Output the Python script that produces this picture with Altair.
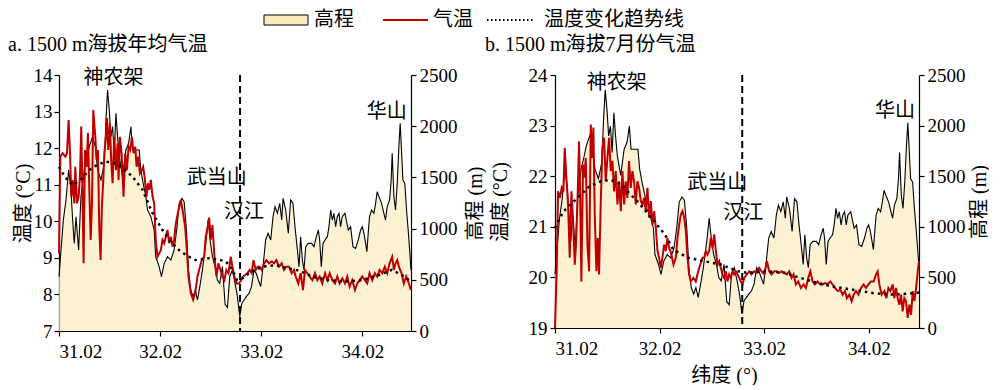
import altair as alt
import pandas as pd

FONT = "Liberation Serif, Noto Sans CJK SC"
BEIGE = "#FCEBC1"
RED = "#C00000"

X_TICKS = [31.02, 32.02, 33.02, 34.02]
X_DOMAIN = [31.02, 34.50]
DASH_LAT = 32.81
ELEV_TICKS = [0, 500, 1000, 1500, 2000, 2500]

# elevation profile (lat, m) - same transect in both panels
ELEVATION = [
    (31.020, 530), (31.040, 791), (31.063, 1084), (31.089, 1279), (31.115, 1572), (31.138, 1377),
    (31.155, 1084), (31.171, 856), (31.188, 1116), (31.214, 791), (31.237, 1312), (31.270, 1572),
    (31.293, 1670), (31.319, 1800), (31.352, 1898), (31.379, 1800), (31.402, 1572), (31.435, 1475),
    (31.468, 1637), (31.484, 2060), (31.500, 2353), (31.517, 2158), (31.533, 1898), (31.550, 1995),
    (31.566, 1735), (31.583, 2126), (31.599, 1898), (31.616, 1702), (31.648, 1507), (31.681, 1767),
    (31.708, 1833), (31.731, 1995), (31.747, 1767), (31.780, 1767), (31.813, 1767), (31.829, 1572),
    (31.852, 1442), (31.879, 1312), (31.895, 1182), (31.928, 1116), (31.961, 986), (31.976, 726),
    (32.010, 628), (32.033, 530), (32.060, 661), (32.093, 726), (32.126, 693), (32.158, 791),
    (32.185, 1000), (32.208, 1247), (32.234, 1295), (32.257, 1263), (32.280, 986), (32.300, 596),
    (32.323, 400), (32.346, 335), (32.367, 400), (32.389, 303), (32.412, 433), (32.438, 596),
    (32.471, 856), (32.494, 1084), (32.514, 889), (32.537, 726), (32.563, 628), (32.586, 498),
    (32.609, 465), (32.636, 628), (32.662, 260), (32.685, 230), (32.708, 530), (32.734, 596),
    (32.761, 465), (32.784, 335), (32.807, 140), (32.827, 270), (32.850, 303), (32.872, 335),
    (32.899, 368), (32.923, 433), (32.948, 596), (32.970, 563), (32.991, 498), (33.014, 433),
    (33.037, 628), (33.063, 889), (33.087, 954), (33.113, 889), (33.136, 1116), (33.156, 1214),
    (33.179, 1149), (33.202, 1247), (33.222, 1084), (33.235, 1295), (33.261, 1182), (33.287, 954),
    (33.310, 1279), (33.333, 1247), (33.353, 1019), (33.376, 800), (33.393, 628), (33.409, 921),
    (33.426, 693), (33.442, 596), (33.459, 824), (33.485, 856), (33.518, 856), (33.541, 824),
    (33.564, 921), (33.584, 986), (33.597, 889), (33.613, 628), (33.630, 856), (33.650, 889),
    (33.673, 921), (33.689, 1019), (33.706, 1182), (33.722, 1084), (33.738, 1149), (33.755, 1019),
    (33.771, 1116), (33.788, 1149), (33.804, 1019), (33.820, 1116), (33.847, 1149), (33.860, 1084),
    (33.880, 986), (33.903, 1019), (33.926, 824), (33.952, 807), (33.979, 889), (34.002, 986),
    (34.018, 1019), (34.035, 954), (34.051, 856), (34.064, 775), (34.077, 954), (34.090, 1116),
    (34.110, 1182), (34.133, 1149), (34.150, 1247), (34.166, 1361), (34.183, 1312), (34.209, 1247),
    (34.232, 1149), (34.248, 1084), (34.265, 1214), (34.288, 1279), (34.304, 1474), (34.314, 1735),
    (34.331, 1312), (34.347, 1182), (34.364, 1442), (34.380, 1800), (34.393, 2028), (34.406, 1767),
    (34.420, 1474), (34.439, 1442), (34.456, 1182), (34.472, 986), (34.489, 758), (34.500, 596),
]

# panel a: annual mean temperature (lat, degC)
TEMP_A = [
    (31.020, 9.12), (31.033, 11.77), (31.056, 11.86), (31.083, 11.77), (31.099, 11.86), (31.115, 12.77),
    (31.129, 11.86), (31.142, 10.67), (31.155, 11.13), (31.171, 10.49), (31.181, 11.49), (31.198, 10.49),
    (31.214, 10.67), (31.227, 11.22), (31.240, 12.59), (31.254, 10.49), (31.263, 8.85), (31.277, 11.95),
    (31.293, 11.49), (31.306, 12.41), (31.319, 10.95), (31.333, 9.49), (31.346, 10.49), (31.359, 13.04),
    (31.379, 12.31), (31.392, 11.68), (31.405, 11.95), (31.418, 9.85), (31.431, 8.94), (31.444, 10.40),
    (31.458, 11.13), (31.468, 11.86), (31.484, 12.31), (31.494, 12.82), (31.507, 11.95), (31.523, 12.68),
    (31.537, 11.59), (31.550, 11.04), (31.566, 12.31), (31.583, 11.40), (31.599, 12.13), (31.609, 11.13),
    (31.622, 12.31), (31.639, 11.86), (31.658, 10.67), (31.675, 11.86), (31.691, 11.40), (31.708, 12.04),
    (31.724, 11.95), (31.741, 12.31), (31.757, 11.86), (31.774, 12.04), (31.787, 11.49), (31.803, 11.77),
    (31.820, 11.31), (31.839, 11.40), (31.852, 11.49), (31.866, 11.22), (31.885, 10.67), (31.899, 11.04),
    (31.912, 10.86), (31.928, 11.13), (31.945, 10.67), (31.961, 10.49), (31.976, 9.49), (31.994, 9.03),
    (32.010, 9.12), (32.027, 9.21), (32.043, 9.49), (32.060, 9.40), (32.076, 9.58), (32.093, 9.76),
    (32.109, 9.40), (32.126, 9.58), (32.142, 9.31), (32.158, 9.49), (32.175, 9.94), (32.201, 10.31),
    (32.224, 10.58), (32.247, 10.22), (32.267, 9.85), (32.284, 9.21), (32.300, 8.49), (32.323, 8.03),
    (32.346, 7.85), (32.366, 8.03), (32.389, 8.49), (32.405, 8.67), (32.432, 8.94), (32.455, 9.03),
    (32.471, 9.58), (32.491, 9.85), (32.504, 10.10), (32.521, 9.50), (32.537, 9.90), (32.557, 9.03),
    (32.576, 8.49), (32.596, 8.85), (32.616, 8.67), (32.636, 8.49), (32.655, 8.39), (32.675, 8.67),
    (32.695, 8.58), (32.718, 9.03), (32.734, 8.76), (32.754, 8.49), (32.774, 8.30), (32.800, 8.30),
    (32.820, 8.39), (32.840, 8.49), (32.859, 8.53), (32.882, 8.58), (32.905, 8.67), (32.925, 8.58),
    (32.942, 8.94), (32.965, 8.67), (32.984, 8.76), (33.004, 8.76), (33.024, 8.67), (33.047, 8.85),
    (33.070, 8.94), (33.096, 8.85), (33.123, 8.90), (33.146, 8.85), (33.169, 8.94), (33.195, 8.76),
    (33.221, 8.85), (33.244, 8.67), (33.267, 8.76), (33.294, 8.76), (33.320, 8.58), (33.343, 8.67),
    (33.360, 8.49), (33.386, 8.30), (33.409, 8.58), (33.432, 8.12), (33.452, 8.67), (33.475, 8.58),
    (33.498, 8.49), (33.525, 8.39), (33.551, 8.58), (33.574, 8.39), (33.597, 8.49), (33.623, 8.30),
    (33.650, 8.58), (33.673, 8.39), (33.696, 8.58), (33.722, 8.39), (33.748, 8.30), (33.771, 8.49),
    (33.794, 8.30), (33.821, 8.44), (33.847, 8.30), (33.870, 8.49), (33.893, 8.21), (33.919, 8.39),
    (33.946, 8.12), (33.969, 8.30), (33.992, 8.39), (34.018, 8.49), (34.044, 8.39), (34.067, 8.30),
    (34.090, 8.58), (34.117, 8.39), (34.143, 8.58), (34.166, 8.49), (34.189, 8.67), (34.216, 8.58),
    (34.242, 8.76), (34.265, 8.58), (34.288, 8.85), (34.314, 9.03), (34.331, 8.67), (34.347, 8.85),
    (34.364, 8.94), (34.380, 8.76), (34.406, 8.58), (34.429, 8.30), (34.452, 8.49), (34.479, 8.30),
    (34.499, 8.12),
]

TREND_A = [
    (31.020, 11.49), (31.080, 11.20), (31.155, 10.99), (31.240, 11.15), (31.320, 11.40), (31.400, 11.55),
    (31.484, 11.63), (31.560, 11.60), (31.630, 11.49), (31.747, 11.22), (31.846, 10.86), (31.945, 10.22),
    (32.043, 9.76), (32.120, 9.45), (32.208, 9.21), (32.290, 9.05), (32.370, 8.94), (32.500, 8.99),
    (32.600, 8.95), (32.670, 8.90), (32.730, 8.70), (32.780, 8.39), (32.840, 8.45), (32.900, 8.58),
    (33.030, 8.76), (33.160, 8.80), (33.290, 8.71), (33.400, 8.65), (33.520, 8.49), (33.690, 8.39),
    (33.850, 8.35), (34.020, 8.39), (34.180, 8.53), (34.310, 8.67), (34.410, 8.53), (34.500, 8.35),
]

# panel b: July temperature (lat, degC)
TEMP_B = [
    (31.020, 19.00), (31.036, 20.12), (31.049, 21.70), (31.068, 21.57), (31.084, 21.77), (31.100, 21.70),
    (31.113, 22.56), (31.129, 21.97), (31.145, 21.44), (31.161, 20.39), (31.177, 21.70), (31.193, 21.11),
    (31.209, 20.25), (31.221, 20.65), (31.234, 21.44), (31.250, 22.69), (31.260, 21.70), (31.272, 19.92),
    (31.288, 22.23), (31.301, 21.97), (31.314, 22.36), (31.330, 20.65), (31.346, 20.12), (31.362, 23.02),
    (31.374, 22.36), (31.387, 22.96), (31.400, 21.24), (31.416, 20.12), (31.429, 20.78), (31.441, 20.06),
    (31.457, 21.44), (31.473, 22.56), (31.489, 22.76), (31.505, 21.90), (31.521, 22.36), (31.537, 22.76),
    (31.553, 22.10), (31.569, 22.30), (31.585, 21.70), (31.601, 22.10), (31.617, 21.44), (31.633, 21.90),
    (31.649, 21.31), (31.665, 22.10), (31.681, 21.44), (31.696, 21.90), (31.712, 21.57), (31.728, 22.30),
    (31.744, 21.77), (31.760, 22.10), (31.776, 21.90), (31.792, 21.44), (31.808, 21.90), (31.824, 21.77),
    (31.840, 21.51), (31.856, 21.44), (31.872, 21.57), (31.888, 21.31), (31.904, 21.77), (31.920, 21.18),
    (31.936, 21.51), (31.952, 21.04), (31.968, 21.31), (31.984, 20.98), (32.000, 20.52), (32.015, 20.39),
    (32.031, 20.19), (32.047, 20.39), (32.063, 20.65), (32.079, 20.52), (32.095, 20.78), (32.111, 20.58),
    (32.127, 20.50), (32.153, 20.25), (32.175, 20.39), (32.191, 20.78), (32.207, 21.04), (32.223, 21.24),
    (32.239, 21.31), (32.255, 21.18), (32.271, 20.91), (32.287, 20.39), (32.302, 20.06), (32.318, 19.92),
    (32.344, 19.99), (32.366, 19.92), (32.389, 20.12), (32.408, 20.25), (32.430, 20.39), (32.446, 20.39),
    (32.462, 20.52), (32.478, 20.45), (32.494, 20.52), (32.510, 20.78), (32.526, 20.58), (32.542, 20.85),
    (32.558, 20.52), (32.574, 20.25), (32.590, 20.32), (32.605, 20.19), (32.621, 20.06), (32.637, 19.99),
    (32.653, 20.12), (32.669, 19.92), (32.685, 20.06), (32.701, 19.99), (32.717, 20.12), (32.733, 20.06),
    (32.749, 20.12), (32.765, 20.06), (32.781, 19.99), (32.797, 19.92), (32.813, 19.86), (32.829, 19.99),
    (32.854, 20.06), (32.877, 20.12), (32.899, 20.06), (32.924, 20.12), (32.950, 20.09), (32.972, 20.19),
    (32.995, 20.12), (33.020, 20.06), (33.046, 20.32), (33.068, 20.12), (33.090, 20.06), (33.116, 20.12),
    (33.141, 20.12), (33.164, 20.09), (33.186, 20.12), (33.211, 20.09), (33.237, 20.06), (33.259, 20.12),
    (33.282, 19.99), (33.301, 20.06), (33.323, 19.86), (33.346, 19.92), (33.371, 19.79), (33.397, 19.86),
    (33.419, 19.79), (33.441, 19.99), (33.461, 20.12), (33.483, 19.92), (33.505, 19.86), (33.531, 19.92),
    (33.556, 19.86), (33.579, 19.86), (33.601, 19.89), (33.626, 19.86), (33.652, 19.92), (33.674, 19.86),
    (33.697, 19.79), (33.722, 19.73), (33.748, 19.76), (33.770, 19.66), (33.792, 19.73), (33.811, 19.59),
    (33.834, 19.66), (33.856, 19.53), (33.875, 19.66), (33.898, 19.73), (33.920, 19.66), (33.945, 19.79),
    (33.971, 19.86), (33.993, 19.79), (34.016, 19.86), (34.041, 19.92), (34.067, 19.92), (34.089, 20.06),
    (34.105, 20.12), (34.121, 19.86), (34.143, 19.66), (34.169, 19.73), (34.188, 19.59), (34.207, 19.79),
    (34.226, 19.73), (34.248, 19.86), (34.264, 19.59), (34.280, 19.79), (34.296, 19.59), (34.312, 19.46),
    (34.328, 19.66), (34.344, 19.33), (34.360, 19.59), (34.376, 19.53), (34.392, 19.20), (34.408, 19.46),
    (34.424, 19.26), (34.440, 19.73), (34.456, 19.53), (34.472, 19.79), (34.488, 20.12), (34.500, 20.32),
]

TREND_B = [
    (31.020, 20.98), (31.100, 21.30), (31.250, 21.60), (31.350, 21.80), (31.460, 21.90), (31.550, 21.93),
    (31.650, 21.84), (31.760, 21.60), (31.810, 21.50), (31.940, 21.18), (32.070, 20.85), (32.150, 20.55),
    (32.290, 20.39), (32.450, 20.32), (32.610, 20.25), (32.770, 20.12), (32.860, 20.09), (33.030, 20.12),
    (33.220, 20.09), (33.320, 20.02), (33.480, 19.92), (33.670, 19.82), (33.860, 19.76), (34.060, 19.69),
    (34.250, 19.66), (34.470, 19.69), (34.500, 19.70),
]

# place-name labels (lat, degC, name)
LABELS_A = [(31.56, 13.92, "神农架"), (32.58, 11.18, "武当山"), (32.85, 10.25, "汉江"), (34.26, 12.99, "华山")]
LABELS_B = [(31.61, 23.84, "神农架"), (32.57, 21.86, "武当山"), (32.82, 21.27, "汉江"), (34.27, 23.29, "华山")]

elev_df = pd.DataFrame(ELEVATION, columns=["lat", "ele"])


def panel(title, temp, trend, labels, tdomain, tticks, width, height, xtitle, ytitle_pad, ylabel_pad, rtitle_pad):
    xs = alt.Scale(domain=X_DOMAIN, nice=False, zero=False)
    xaxis = alt.Axis(values=X_TICKS, format=".2f", title=xtitle if xtitle else None,
                     titleX=169, titlePadding=7, labelPadding=6)
    xenc = alt.X("lat:Q", scale=xs, axis=xaxis)
    ts = alt.Scale(domain=tdomain, nice=False, zero=False)
    tenc = alt.Y("t:Q", scale=ts,
                 axis=alt.Axis(orient="left", values=tticks, title="温度 (°C)",
                               titlePadding=ytitle_pad, labelPadding=ylabel_pad))

    area = alt.Chart(elev_df).mark_area(
        color=BEIGE, line={"color": "black", "strokeWidth": 1.1}
    ).encode(
        x=xenc,
        y=alt.Y("ele:Q", scale=alt.Scale(domain=[0, 2500], nice=False),
                axis=alt.Axis(orient="right", values=ELEV_TICKS, format="d", title="高程 (m)",
                              titleAngle=270, titleBaseline="top", titlePadding=rtitle_pad,
                              labelPadding=3)),
    )
    tdf = pd.DataFrame(temp, columns=["lat", "t"])
    trdf = pd.DataFrame(trend, columns=["lat", "t"])
    ldf = pd.DataFrame(labels, columns=["lat", "t", "name"])

    line = alt.Chart(tdf).mark_line(color=RED, strokeWidth=2).encode(x=xenc, y=tenc)
    tr = alt.Chart(trdf).mark_line(color="black", strokeWidth=2.5, strokeDash=[2.5, 4]).encode(x=xenc, y=tenc)
    rule = alt.Chart(pd.DataFrame({"lat": [DASH_LAT]})).mark_rule(
        color="black", strokeWidth=2, strokeDash=[7, 4]).encode(x=xenc)
    txt = alt.Chart(ldf).mark_text(font=FONT, fontSize=20, color="black", align="center",
                                   baseline="middle").encode(x=xenc, y=tenc, text="name:N")
    temp_layer = alt.layer(line, tr, rule, txt)
    return alt.layer(area, temp_layer).resolve_scale(y="independent").properties(
        width=width, height=height,
        title=alt.TitleParams(title, anchor="start", font=FONT, fontSize=20,
                              fontWeight="normal", dx=-5, offset=11, color="black"),
    )


pa = panel("a. 1500 m海拔年均气温", TEMP_A, TREND_A, LABELS_A, [7, 14], list(range(7, 15)),
           352, 256, None, 0, 2, 8)
pb = panel("b. 1500 m海拔7月份气温", TEMP_B, TREND_B, LABELS_B, [19, 24], list(range(19, 25)),
           364, 253, "纬度 (°)", 18, 3, 4)

leg_src = pd.DataFrame({"k": [0]})
leg_rect = alt.Chart(leg_src).mark_rect(fill=BEIGE, stroke="black", strokeWidth=1).encode(
    x=alt.value(205), x2=alt.value(249), y=alt.value(0), y2=alt.value(10))
leg_t1 = alt.Chart(leg_src).mark_text(text="高程", font=FONT, fontSize=20, align="left",
                                      baseline="middle").encode(x=alt.value(255), y=alt.value(5))
leg_red = alt.Chart(leg_src).mark_rule(color=RED, strokeWidth=2).encode(
    x=alt.value(324), x2=alt.value(369), y=alt.value(5))
leg_t2 = alt.Chart(leg_src).mark_text(text="气温", font=FONT, fontSize=20, align="left",
                                      baseline="middle").encode(x=alt.value(374), y=alt.value(5))
leg_dot = alt.Chart(leg_src).mark_rule(color="black", strokeWidth=2, strokeDash=[1.5, 2.5]).encode(
    x=alt.value(428), x2=alt.value(474), y=alt.value(5))
leg_t3 = alt.Chart(leg_src).mark_text(text="温度变化趋势线", font=FONT, fontSize=20, align="left",
                                      baseline="middle").encode(x=alt.value(485), y=alt.value(5))
legend = alt.layer(leg_rect, leg_t1, leg_red, leg_t2, leg_dot, leg_t3).properties(width=700, height=12)

chart = alt.vconcat(
    legend,
    alt.hconcat(pa, pb, spacing=0),
    spacing=5,
).properties(padding={"top": 2, "left": 0, "right": 0, "bottom": 0}).configure_view(
    stroke=None
).configure_axis(
    labelFont=FONT, labelFontSize=19, labelColor="black",
    titleFont=FONT, titleFontSize=20, titleFontWeight="normal", titleColor="black",
    domainColor="black", domainWidth=1.2, tickColor="black", tickWidth=1.2, tickSize=5,
    grid=False,
)

chart.save("out.html", embed_options={"renderer": "svg", "actions": False})
